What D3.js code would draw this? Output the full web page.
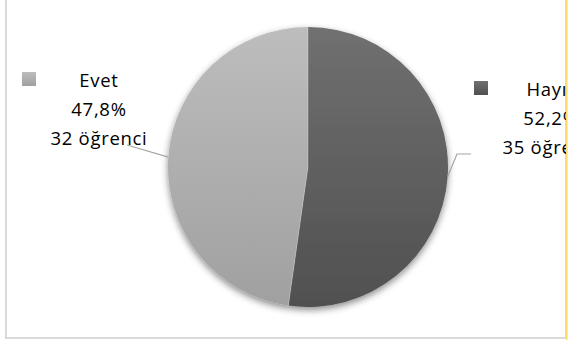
<!DOCTYPE html>
<html>
<head>
<meta charset="utf-8">
<script src="https://cdn.jsdelivr.net/npm/d3@7"></script>
<style>
  html, body { margin: 0; padding: 0; background: #fff; }
  svg { display: block; }
  text { font-family: "Open Sans", sans-serif; font-size: 18.5px; fill: #000; letter-spacing: 0.7px; }
</style>
</head>
<body>
<svg id="chart" width="569" height="340"></svg>
<script>
// Survey answers and the number of students for each
const categories = ["Hayır", "Evet"];
const counts = [35, 32];
const unitLabel = "öğrenci";
const sliceTop = ["#707070", "#bdbdbd"];
const sliceBottom = ["#505050", "#a0a0a0"];

const W = 569, H = 340;
const cx = 308, cy = 167, radius = 140;

const svg = d3.select("#chart");
const defs = svg.append("defs");

// soft shadow under the pie
const shadow = defs.append("filter").attr("id", "pieShadow")
  .attr("x", "-20%").attr("y", "-20%").attr("width", "140%").attr("height", "140%");
shadow.append("feDropShadow").attr("dx", 0).attr("dy", 3).attr("stdDeviation", 3.5)
  .attr("flood-color", "#000").attr("flood-opacity", 0.45);

// vertical shading: one gradient for legend keys, one spanning the pie
categories.forEach((c, i) => {
  const key = defs.append("linearGradient").attr("id", "keyGrad" + i)
    .attr("x1", 0).attr("y1", 0).attr("x2", 0).attr("y2", 1);
  key.append("stop").attr("offset", "0%").attr("stop-color", sliceTop[i]);
  key.append("stop").attr("offset", "100%").attr("stop-color", sliceBottom[i]);
  const slice = defs.append("linearGradient").attr("id", "sliceGrad" + i)
    .attr("gradientUnits", "userSpaceOnUse")
    .attr("x1", 0).attr("y1", -radius).attr("x2", 0).attr("y2", radius);
  slice.append("stop").attr("offset", "0%").attr("stop-color", sliceTop[i]);
  slice.append("stop").attr("offset", "100%").attr("stop-color", sliceBottom[i]);
});

defs.append("clipPath").attr("id", "plotClip")
  .append("rect").attr("x", 0).attr("y", 0).attr("width", 566).attr("height", H);

// chart frame
svg.append("rect")
  .attr("x", 6).attr("y", -10).attr("width", 560).attr("height", 348)
  .attr("fill", "none").attr("stroke", "#d9d9d9").attr("stroke-width", 2);
svg.append("line")
  .attr("x1", 566.8).attr("x2", 566.8).attr("y1", 0).attr("y2", H)
  .attr("stroke", "#ffdc6a").attr("stroke-width", 1.6);

const total = d3.sum(counts);
const pie = d3.pie().sort(null).value(d => d)(counts);
const arc = d3.arc().innerRadius(0).outerRadius(radius);

const plot = svg.append("g").attr("clip-path", "url(#plotClip)");
const pieG = plot.append("g").attr("transform", `translate(${cx},${cy})`);

pieG.append("g").attr("filter", "url(#pieShadow)")
  .selectAll("path").data(pie).join("path")
  .attr("d", arc)
  .attr("fill", (d, i) => `url(#sliceGrad${i})`);

// faint divider between slices
pieG.selectAll("line.sep").data(pie).join("line")
  .attr("class", "sep")
  .attr("x1", 0).attr("y1", 0)
  .attr("x2", d => radius * Math.sin(d.startAngle))
  .attr("y2", d => -radius * Math.cos(d.startAngle))
  .attr("stroke", "#ffffff").attr("stroke-opacity", 0.35).attr("stroke-width", 0.8);

// label blocks: legend key, name, share, count
const labelPos = [
  { x: 551, y: 96, elbow: [457, 154], end: [471, 154] },
  { x: 99, y: 87, elbow: null, end: [127, 145] }
];
const fmtPct = v => d3.format(".1f")(v).replace(".", ",") + "%";

pie.forEach((d, i) => {
  const p = labelPos[i];
  const mid = (d.startAngle + d.endAngle) / 2;
  const sx = cx + radius * Math.sin(mid), sy = cy - radius * Math.cos(mid);
  const pts = [[sx, sy]];
  if (p.elbow) pts.push(p.elbow);
  pts.push(p.end);
  plot.append("path")
    .attr("d", d3.line()(pts))
    .attr("fill", "none").attr("stroke", "#a6a6a6").attr("stroke-width", 1.2);

  plot.append("rect")
    .attr("x", p.x - 77).attr("y", p.y - 15).attr("width", 14).attr("height", 14)
    .attr("fill", `url(#keyGrad${i})`);

  const lines = [categories[i], fmtPct(counts[i] / total * 100), `${counts[i]} ${unitLabel}`];
  plot.selectAll(null).data(lines).join("text")
    .attr("x", p.x).attr("y", (t, k) => p.y + k * 29)
    .attr("text-anchor", "middle")
    .text(t => t);
});
</script>
</body>
</html>
